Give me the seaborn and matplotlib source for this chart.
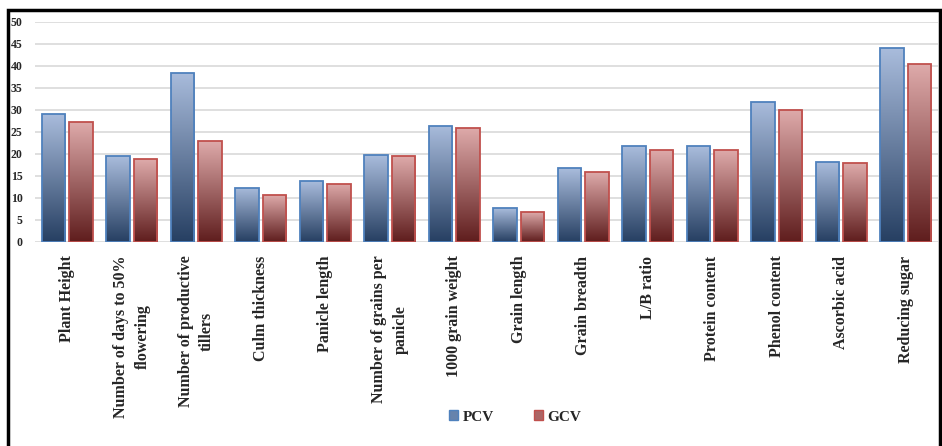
import numpy as np
import pandas as pd
import seaborn as sns
import matplotlib.pyplot as plt
from matplotlib.colors import LinearSegmentedColormap
from matplotlib.patches import Rectangle

traits = ["Plant Height", "Number of days to 50%\nflowering", "Number of productive\ntillers",
          "Culm thickness", "Panicle length", "Number of grains per\npanicle", "1000 grain weight",
          "Grain length", "Grain breadth", "L/B ratio", "Protein content", "Phenol content",
          "Ascorbic acid", "Reducing sugar"]
pcv = [29.1, 19.4, 38.5, 12.3, 13.8, 19.7, 26.4, 7.6, 16.7, 21.8, 21.8, 31.7, 18.1, 44.1]
gcv = [27.3, 18.8, 22.9, 10.6, 13.2, 19.4, 25.9, 6.8, 15.9, 20.9, 20.9, 30.0, 17.9, 40.5]

df = pd.DataFrame({"trait": traits * 2,
                   "value": pcv + gcv,
                   "type": ["PCV"] * len(pcv) + ["GCV"] * len(gcv)})

sns.set_style("white")
plt.rcParams['font.family'] = ['Liberation Serif', 'DejaVu Serif']
plt.rcParams['font.weight'] = 'bold'

fig = plt.figure(figsize=(9.42, 4.46), dpi=100)
ax = fig.add_axes([35 / 942, 1 - 241.7 / 446, 903 / 942, (241.7 - 22) / 446])

sns.barplot(data=df, x="trait", y="value", hue="type", order=traits, hue_order=["PCV", "GCV"],
            width=0.85, gap=0.14, legend=False, ax=ax, zorder=2)

ax.set_xlim(-0.5, len(traits) - 0.5)
ax.set_ylim(0, 50)
ax.set_yticks(range(0, 51, 5))
ax.yaxis.grid(True, color="#d9d9d9", linewidth=1.2, zorder=0)
ax.set_axisbelow(True)
for s in ax.spines.values():
    s.set_visible(False)

# gradient fill for each bar
blue = LinearSegmentedColormap.from_list("b", ["#263f62", "#a9bcdc"])
red = LinearSegmentedColormap.from_list("r", ["#5f1d1d", "#deaaaa"])
grad = np.linspace(0, 1, 256).reshape(-1, 1)
for cont, cmap, edge in zip(ax.containers, [blue, red], ["#4f81bd", "#c0504d"]):
    for bar in cont:
        x0, y0 = bar.get_x(), bar.get_y()
        w, h = bar.get_width(), bar.get_height()
        bar.set_facecolor("none")
        bar.set_edgecolor(edge)
        bar.set_linewidth(1.3)
        bar.set_zorder(3)
        im = ax.imshow(grad, cmap=cmap, aspect="auto", origin="lower",
                       extent=[x0, x0 + w, y0, y0 + h], zorder=2.5)
        im.set_clip_path(bar)

ax.set_xlim(-0.5, len(traits) - 0.5)
ax.set_ylim(0, 50)
ax.set_xlabel("")
ax.set_ylabel("")
ax.tick_params(axis="x", length=0, pad=10)
ax.tick_params(axis="y", length=0, pad=9)
ax.set_xticks(range(len(traits)))
ax.set_xticklabels(traits, rotation=90, fontsize=11.5, fontweight="bold",
                   va="top", ha="center", multialignment="center", linespacing=1.45)
for lab in ax.get_yticklabels():
    lab.set_fontsize(8.5)
    lab.set_fontweight("bold")

# legend
handles = [Rectangle((0, 0), 1, 1, facecolor="#6783ac", edgecolor="#4f81bd"),
           Rectangle((0, 0), 1, 1, facecolor="#ab6666", edgecolor="#c0504d")]
fig.legend(handles, ["PCV", "GCV"], loc="center", bbox_to_anchor=(515 / 942, 1 - 417 / 446),
           ncol=2, frameon=False, handlelength=0.6, handleheight=0.6, handletextpad=0.3,
           columnspacing=2.6, prop={"family": "Liberation Serif", "weight": "bold", "size": 11})

# outer frame
fig.add_artist(Rectangle((8 / 942, -0.05), 932 / 942, 1.05 - 10 / 446, transform=fig.transFigure,
                         fill=False, edgecolor="black", linewidth=2.5))

plt.savefig("out.png", dpi=100)
